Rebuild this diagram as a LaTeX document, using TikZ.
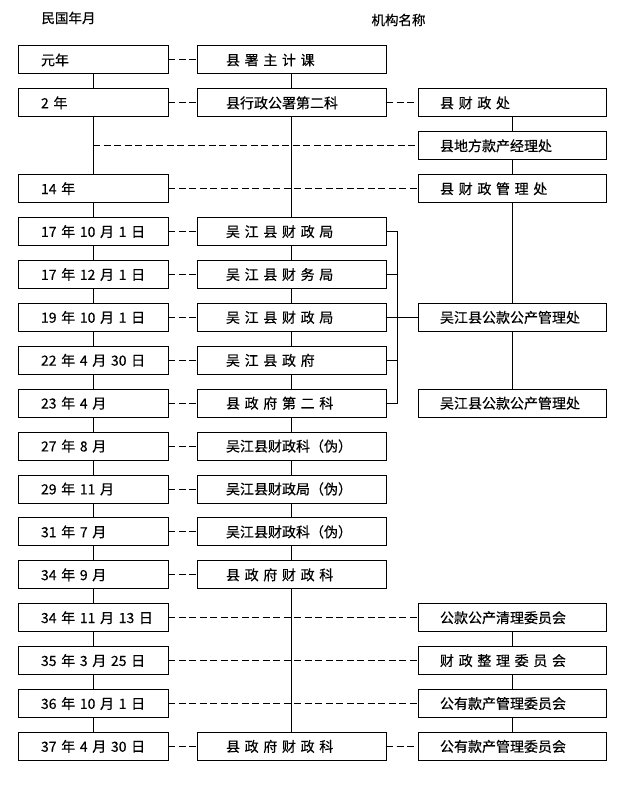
\documentclass[tikz,border=0pt]{standalone}
\usepackage{fontspec}
\setmainfont{Noto Sans CJK SC}[FakeBold=0.4]
\usetikzlibrary{positioning,calc}

\newcommand\spread[2]{\makebox[#1][s]{#2}}

\tikzset{
  box/.style={draw, minimum height=28pt, inner ysep=0pt, outer sep=0pt, align=left,
    font=\fontsize{14pt}{16pt}\selectfont},
  datebox/.style={box, text width=104pt, inner xsep=23pt},
  orgbox/.style={box, text width=131pt, inner xsep=29pt},
  rbox/.style={box, text width=144pt, inner xsep=22pt},
  head/.style={anchor=west, inner sep=0pt, font=\fontsize{13.5pt}{15pt}\selectfont},
  link/.style={dash pattern=on 7pt off 3.5pt},
}

\begin{document}
\begin{tikzpicture}[x=1pt, y=-1pt, line width=1pt, node distance=14.9pt and 29pt]
  \useasboundingbox (0,0) rectangle (620,786);

  \node[head] (hdate) at (41,18) {民国年月};
  \node[head] (horg) at (371,20) {机构名称};

  % dates
  \node[datebox] (d0) at (93,60) {元年};
  \node[datebox, below=of d0] (d1) {2~年};
  \node[datebox, below=57.8pt of d1] (d3) {14~年};
  \coordinate (row2) at ($(d1)!.5!(d3)$);
  \node[datebox, below=of d3] (d4) {17~年~10~月~1~日};
  \node[datebox, below=of d4] (d5) {17~年~12~月~1~日};
  \node[datebox, below=of d5] (d6) {19~年~10~月~1~日};
  \node[datebox, below=of d6] (d7) {22~年~4~月~30~日};
  \node[datebox, below=of d7] (d8) {23~年~4~月};
  \node[datebox, below=of d8] (d9) {27~年~8~月};
  \node[datebox, below=of d9] (d10) {29~年~11~月};
  \node[datebox, below=of d10] (d11) {31~年~7~月};
  \node[datebox, below=of d11] (d12) {34~年~9~月};
  \node[datebox, below=of d12] (d13) {34~年~11~月~13~日};
  \node[datebox, below=of d13] (d14) {35~年~3~月~25~日};
  \node[datebox, below=of d14] (d15) {36~年~10~月~1~日};
  \node[datebox, below=of d15] (d16) {37~年~4~月~30~日};

  % county offices
  \node[orgbox, right=of d0] (m0) {\spread{114pt}{县 署 主 计 课}};
  \node[orgbox, right=of d1] (m1) {县行政公署第二科};
  \node[orgbox, right=of d4] (m4) {\spread{125pt}{吴 江 县 财 政 局}};
  \node[orgbox, right=of d5] (m5) {\spread{124pt}{吴 江 县 财 务 局}};
  \node[orgbox, right=of d6] (m6) {\spread{125pt}{吴 江 县 财 政 局}};
  \node[orgbox, right=of d7] (m7) {\spread{124pt}{吴 江 县 政 府}};
  \node[orgbox, right=of d8] (m8) {\spread{124pt}{县 政 府 第 二 科}};
  \node[orgbox, right=of d9] (m9) {吴江县财政科（伪）};
  \node[orgbox, right=of d10] (m10) {吴江县财政局（伪）};
  \node[orgbox, right=of d11] (m11) {吴江县财政科（伪）};
  \node[orgbox, right=of d12] (m12) {\spread{119pt}{县 政 府 财 政 科}};
  \node[orgbox, right=of d16] (m16) {\spread{119pt}{县 政 府 财 政 科}};

  % property offices
  \node[rbox, right=32pt of m1] (r1) {\spread{112pt}{县 财 政 处}};
  \node[rbox] (r2) at (r1 |- row2) {县地方款产经理处};
  \node[rbox] (r3) at (r1 |- d3) {\spread{112pt}{县 财 政 管 理 处}};
  \node[rbox, right=32pt of m6] (r6) {吴江县公款公产管理处};
  \node[rbox, right=32pt of m8] (r8) {吴江县公款公产管理处};
  \node[rbox] (r13) at (r1 |- d13) {公款公产清理委员会};
  \node[rbox] (r14) at (r1 |- d14) {\spread{129pt}{财 政 整 理 委 员 会}};
  \node[rbox] (r15) at (r1 |- d15) {公有款产管理委员会};
  \node[rbox, right=32pt of m16] (r16) {公有款产管理委员会};

  % succession lines
  \draw (d0) -- (d1) -- (d3) -- (d4) -- (d5) -- (d6) -- (d7) -- (d8) -- (d9)
    -- (d10) -- (d11) -- (d12) -- (d13) -- (d14) -- (d15) -- (d16);
  \draw (m0) -- (m1) -- (m4) -- (m5) -- (m6) -- (m7) -- (m8) -- (m9)
    -- (m10) -- (m11) -- (m12) -- (m16);
  \draw (r1) -- (r2) -- (r3) -- (r6) -- (r8);
  \draw (r13) -- (r14) -- (r15) -- (r16);

  % bracket
  \coordinate (bk) at ($(m4.east)+(11pt,0)$);
  \draw (m4.east) -- (bk) -- (bk |- m8.east) -- (m8.east);
  \draw (m5.east) -- (bk |- m5.east);
  \draw (m7.east) -- (bk |- m7.east);
  \draw (m6) -- (r6);

  % dates to offices
  \draw[link] (d0) -- (m0);
  \draw[link] (d1) -- (m1);
  \draw[link] (m1) -- (r1);
  \draw[link] (row2) -- (r2);
  \draw[link] (d3) -- (r3);
  \foreach \i in {4,...,12}
    \draw[link] (d\i) -- (m\i);
  \foreach \i in {13,14,15}
    \draw[link] (d\i) -- (r\i);
  \draw[link] (d16) -- (m16);
  \draw[link] (m16) -- (r16);
\end{tikzpicture}
\end{document}
